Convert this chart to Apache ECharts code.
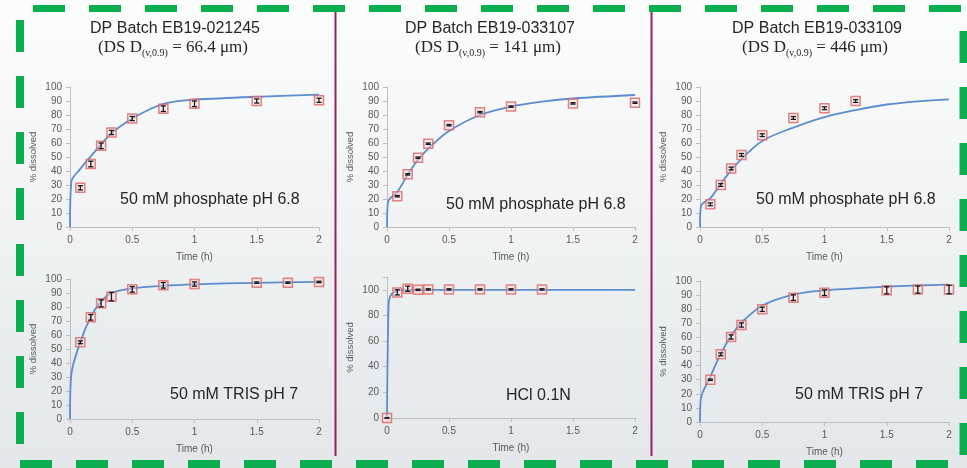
<!DOCTYPE html>
<html><head><meta charset="utf-8">
<script src="https://cdn.jsdelivr.net/npm/echarts@6/dist/echarts.min.js"></script>
<style>html,body{margin:0;padding:0;background:#fff}#c{width:967px;height:468px}</style>
</head><body><div id="c"></div>
<script>
// ---- data ----
const xTicks = [0, 0.5, 1, 1.5, 2];
const panelTitles = ['DP Batch EB19-021245', 'DP Batch EB19-033107', 'DP Batch EB19-033109'];
const panelD90 = ['66.4', '141', '446'];
const mediumLabels = ['50 mM phosphate pH 6.8', '50 mM TRIS pH 7', '50 mM phosphate pH 6.8', 'HCl 0.1N', '50 mM phosphate pH 6.8', '50 mM TRIS pH 7'];

// panel 1: EB19-021245, phosphate pH 6.8
const p1T = [0.083, 0.167, 0.25, 0.333, 0.5, 0.75, 1, 1.5, 2];
const p1Y = [28, 45, 58, 67.5, 77.5, 84.5, 88, 90, 90.5];
const p1E = [1.5, 2, 2, 1.5, 1.5, 2, 2, 1.5, 1.5];
const p1CurveT = [0, 0.01, 0.083, 0.167, 0.25, 0.333, 0.5, 0.65, 0.75, 0.85, 1, 1.5, 2];
const p1CurveY = [0, 32, 41.5, 50.5, 59, 67, 77.5, 84.5, 88, 89.7, 91, 93, 94.5];
// panel 2: EB19-021245, TRIS pH 7
const p2T = [0.083, 0.167, 0.25, 0.333, 0.5, 0.75, 1, 1.5, 1.75, 2];
const p2Y = [54.8, 72.6, 82.6, 87.4, 92.6, 95.5, 96.4, 97.4, 97.4, 97.9];
const p2E = [1, 2, 2.5, 3, 2, 2, 1.5, 0.5, 0.5, 0.5];
const p2CurveT = [0, 0.008, 0.083, 0.167, 0.25, 0.333, 0.5, 0.75, 1, 1.5, 2];
const p2CurveY = [0, 30, 55, 73, 84, 90, 93.3, 95.2, 96.2, 97.3, 98];
// panel 3: EB19-033107, phosphate pH 6.8
const p3T = [0.083, 0.167, 0.25, 0.333, 0.5, 0.75, 1, 1.5, 2];
const p3Y = [22, 37.6, 49.5, 59.5, 72.7, 82, 86, 88.3, 88.8];
const p3E = [0.5, 0.5, 0.5, 0.5, 0.5, 0.5, 0.5, 0.5, 0.5];
const p3CurveT = [0, 0.008, 0.083, 0.167, 0.25, 0.333, 0.5, 0.75, 1, 1.25, 1.5, 2];
const p3CurveY = [0, 18, 25, 37.5, 48, 56, 68.5, 80, 86, 89.5, 91.8, 94.3];
// panel 4: EB19-033107, HCl 0.1N
const p4T = [0, 0.083, 0.167, 0.25, 0.333, 0.5, 0.75, 1, 1.25];
const p4Y = [0, 98, 100.8, 100, 100.3, 100.3, 100.3, 100.3, 100.3];
const p4E = [0, 2, 2, 0.5, 0.5, 0.5, 0.5, 0.5, 0.5];
const p4CurveT = [0, 0.013, 0.027, 0.054, 0.107, 0.25, 2];
const p4CurveY = [0, 89, 95, 98, 99.7, 100, 100];
// panel 5: EB19-033109, phosphate pH 6.8
const p5T = [0.083, 0.167, 0.25, 0.333, 0.5, 0.75, 1, 1.25];
const p5Y = [16.2, 30, 41.8, 51.5, 65.6, 77.9, 84.8, 90];
const p5E = [1, 1, 1, 1, 1, 1, 1, 1];
const p5CurveT = [0, 0.008, 0.083, 0.167, 0.25, 0.333, 0.5, 0.75, 1, 1.25, 1.5, 1.75, 2];
const p5CurveY = [0, 15, 20.5, 31, 40.5, 48.5, 61.5, 71, 78.5, 83.5, 87.5, 89.8, 91.2];
// panel 6: EB19-033109, TRIS pH 7
const p6T = [0.083, 0.167, 0.25, 0.333, 0.5, 0.75, 1, 1.5, 1.75, 2];
const p6Y = [30, 48, 60.3, 68.8, 79.9, 88.2, 91.7, 93.4, 93.9, 93.9];
const p6E = [0.5, 1, 1.5, 1.5, 1.5, 2, 2, 2.5, 2.5, 3];
const p6CurveT = [0, 0.005, 0.083, 0.167, 0.25, 0.333, 0.5, 0.75, 1, 1.5, 2];
const p6CurveY = [0, 15.5, 32, 48.5, 61, 70.5, 82.5, 90.3, 93.3, 96, 97.5];

const yMax = [100, 100, 100, 110, 100, 100];
const yInterval = [10, 10, 10, 20, 10, 10];

// ---- layout ----
const grids = [
  {left: 70, top: 87, width: 249, height: 140},
  {left: 70, top: 279, width: 249, height: 140},
  {left: 387, top: 87, width: 248, height: 140},
  {left: 387, top: 277, width: 248, height: 141},
  {left: 700, top: 87, width: 249, height: 140},
  {left: 700, top: 281, width: 249, height: 141}
];
const labelPos = [[120, 200], [170, 395], [446, 205], [506, 396], [756, 200], [795, 395]];
const titleX = [175, 490, 817];

const panels = [
  [p1T, p1Y, p1E, p1CurveT, p1CurveY],
  [p2T, p2Y, p2E, p2CurveT, p2CurveY],
  [p3T, p3Y, p3E, p3CurveT, p3CurveY],
  [p4T, p4Y, p4E, p4CurveT, p4CurveY],
  [p5T, p5Y, p5E, p5CurveT, p5CurveY],
  [p6T, p6Y, p6E, p6CurveT, p6CurveY]
];

const SANS = '"Liberation Sans", Arial, sans-serif';
const SERIF = '"Liberation Serif", "Times New Roman", serif';
const axisGrey = '#bfbfbf';
const labelGrey = '#595959';

const xAxes = [], yAxes = [], series = [];
panels.forEach((p, i) => {
  xAxes.push({
    gridIndex: i, type: 'value', min: xTicks[0], max: xTicks[xTicks.length - 1], interval: 0.5,
    axisLine: {show: true, lineStyle: {color: axisGrey, width: 1}},
    axisTick: {show: true, length: 4, lineStyle: {color: axisGrey}},
    splitLine: {show: false},
    axisLabel: {fontSize: 10, color: labelGrey, fontFamily: SANS, margin: 8},
    name: 'Time (h)', nameLocation: 'middle', nameGap: 25,
    nameTextStyle: {fontSize: 10, color: labelGrey, fontFamily: SANS}
  });
  yAxes.push({
    gridIndex: i, type: 'value', min: 0, max: yMax[i], interval: yInterval[i],
    axisLine: {show: true, lineStyle: {color: axisGrey, width: 1}},
    axisTick: {show: true, length: 4, lineStyle: {color: axisGrey}},
    splitLine: {show: false},
    axisLabel: {fontSize: 10, color: labelGrey, fontFamily: SANS, margin: 8,
      formatter: v => (v > 100 ? '' : String(v))},
    name: '% dissolved', nameLocation: 'middle', nameGap: 32, nameRotate: 90,
    nameTextStyle: {fontSize: 9.5, color: labelGrey, fontFamily: SANS}
  });
  const [T, Y, E, CT, CY] = p;
  series.push({
    type: 'line', xAxisIndex: i, yAxisIndex: i, z: 3,
    data: CT.map((t, k) => [t, CY[k]]), showSymbol: false, symbol: 'none',
    smooth: 0.35,
    lineStyle: {color: '#5b8dcf', width: 1.8}, silent: true
  });
  series.push({
    type: 'scatter', xAxisIndex: i, yAxisIndex: i, z: 4, clip: false,
    data: T.map((t, k) => [t, Y[k]]), symbol: 'rect', symbolSize: 9,
    itemStyle: {color: 'rgba(246,222,222,0.55)', borderColor: '#df6464', borderWidth: 1.5}
  });
  series.push({
    type: 'custom', xAxisIndex: i, yAxisIndex: i, z: 5, clip: false,
    data: T.map((t, k) => [t, Y[k], E[k]]),
    renderItem: (params, api) => {
      const t = api.value(0), y = api.value(1), e = api.value(2);
      const hi = api.coord([t, y + e]), lo = api.coord([t, y - e]);
      const w = 2.6;
      const st = {stroke: '#1a1a1a', lineWidth: 1.3};
      return {type: 'group', children: [
        {type: 'line', shape: {x1: hi[0], y1: hi[1], x2: lo[0], y2: lo[1]}, style: st},
        {type: 'line', shape: {x1: hi[0] - w, y1: hi[1], x2: hi[0] + w, y2: hi[1]}, style: st},
        {type: 'line', shape: {x1: lo[0] - w, y1: lo[1], x2: lo[0] + w, y2: lo[1]}, style: st}
      ]};
    }
  });
});

const graphics = [];
// purple separators
[335.5, 651.5].forEach(x => graphics.push({type: 'line', shape: {x1: x, y1: 12, x2: x, y2: 456},
  style: {stroke: '#9c1f66', lineWidth: 2}, z: 1}));
// green dashed frame
const green = '#0aae4f';
const dash = [32, 24];
graphics.push({type: 'line', shape: {x1: 33, y1: 8.5, x2: 967, y2: 8.5}, style: {stroke: green, lineWidth: 7, lineDash: dash}, z: 10});
graphics.push({type: 'line', shape: {x1: 20, y1: 464, x2: 967, y2: 464}, style: {stroke: green, lineWidth: 8, lineDash: dash}, z: 10});
graphics.push({type: 'line', shape: {x1: 20, y1: 20, x2: 20, y2: 458}, style: {stroke: green, lineWidth: 8, lineDash: dash}, z: 10});
graphics.push({type: 'line', shape: {x1: 963.5, y1: 31, x2: 963.5, y2: 458}, style: {stroke: green, lineWidth: 8, lineDash: dash}, z: 10});
// titles
panelTitles.forEach((t, i) => {
  graphics.push({type: 'text', x: titleX[i], y: 29, z: 10,
    style: {text: t, fill: '#262626', font: '16px ' + SANS, align: 'center', verticalAlign: 'middle'}});
  graphics.push({type: 'text', x: titleX[i] - 2, y: 48, z: 10,
    style: {text: '{m|(DS D}{s|(v,0.9)}{m| = ' + panelD90[i] + ' \u03bcm)}', align: 'center', verticalAlign: 'middle',
      rich: {
        m: {fontSize: 17, fontFamily: SERIF, fill: '#262626', lineHeight: 20},
        s: {fontSize: 10, fontFamily: SERIF, fill: '#262626', lineHeight: 10, padding: [11, 0, 0, 0]}
      }}});
});
// medium labels
mediumLabels.forEach((t, i) => {
  graphics.push({type: 'text', x: labelPos[i][0], y: labelPos[i][1], z: 10,
    style: {text: t, fill: '#262626', font: '16px ' + SANS, align: 'left', verticalAlign: 'middle'}});
});

const chart = echarts.init(document.getElementById('c'), null, {renderer: 'canvas'});
chart.setOption({
  animation: false,
  backgroundColor: new echarts.graphic.LinearGradient(0, 0, 0, 1, [
    {offset: 0, color: '#fcfdfd'}, {offset: 0.5, color: '#f0f2f3'}, {offset: 1, color: '#e3e7e9'}]),
  grid: grids,
  xAxis: xAxes,
  yAxis: yAxes,
  series: series,
  graphic: graphics
});
</script></body></html>
